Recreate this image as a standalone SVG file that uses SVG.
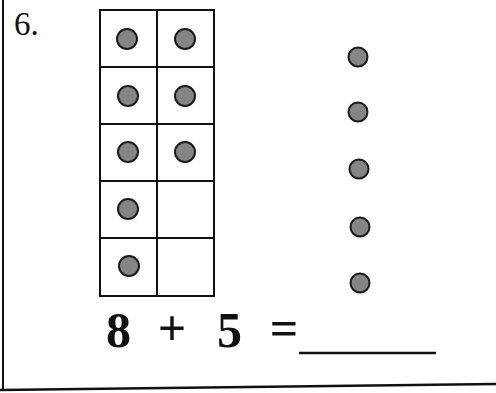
<svg xmlns="http://www.w3.org/2000/svg" width="496" height="393" viewBox="0 0 496 393">
<style>
.g{fill:none;stroke:#111;stroke-width:2}
.d{fill:#858585;stroke:#1a1a1a;stroke-width:2}
.t{font-family:"Liberation Serif","Times New Roman",serif;fill:#111}
.b{font-weight:bold;font-size:50px;text-anchor:middle}
</style>
<rect width="496" height="393" fill="#fff"/>
<g id="frame">
<line x1="3" y1="0" x2="3" y2="391" stroke="#111" stroke-width="2"/>
<line x1="0" y1="390" x2="496" y2="384" stroke="#111" stroke-width="2.5"/>
</g>
<g id="label"><text class="t" x="14" y="35" font-size="33">6.</text></g>
<g id="tenframe">
<rect class="g" x="100" y="10" width="114" height="286"/>
<line class="g" x1="157" y1="10" x2="157" y2="296"/>
<line class="g" x1="100" y1="67" x2="214" y2="67"/>
<line class="g" x1="100" y1="124" x2="214" y2="124"/>
<line class="g" x1="100" y1="181" x2="214" y2="181"/>
<line class="g" x1="100" y1="238" x2="214" y2="238"/>
<circle class="d" cx="127" cy="39" r="10"/>
<circle class="d" cx="185" cy="39" r="10"/>
<circle class="d" cx="128" cy="96" r="10"/>
<circle class="d" cx="185" cy="96" r="10"/>
<circle class="d" cx="128" cy="152" r="10"/>
<circle class="d" cx="185" cy="152" r="10"/>
<circle class="d" cx="128" cy="209" r="10"/>
<circle class="d" cx="129" cy="266" r="10"/>
</g>
<g id="dots">
<circle class="d" cx="358" cy="57" r="9.5"/>
<circle class="d" cx="358" cy="112" r="9.5"/>
<circle class="d" cx="359" cy="169" r="9.5"/>
<circle class="d" cx="360" cy="227" r="9.5"/>
<circle class="d" cx="360" cy="283" r="9.5"/>
</g>
<g id="equation">
<text class="t b" x="118.5" y="347">8</text>
<text class="t b" x="172" y="345">+</text>
<text class="t b" x="229.5" y="347">5</text>
<text class="t b" x="284" y="345">=</text>
<line x1="299" y1="353" x2="436" y2="353" stroke="#111" stroke-width="2.5"/>
</g>
</svg>
